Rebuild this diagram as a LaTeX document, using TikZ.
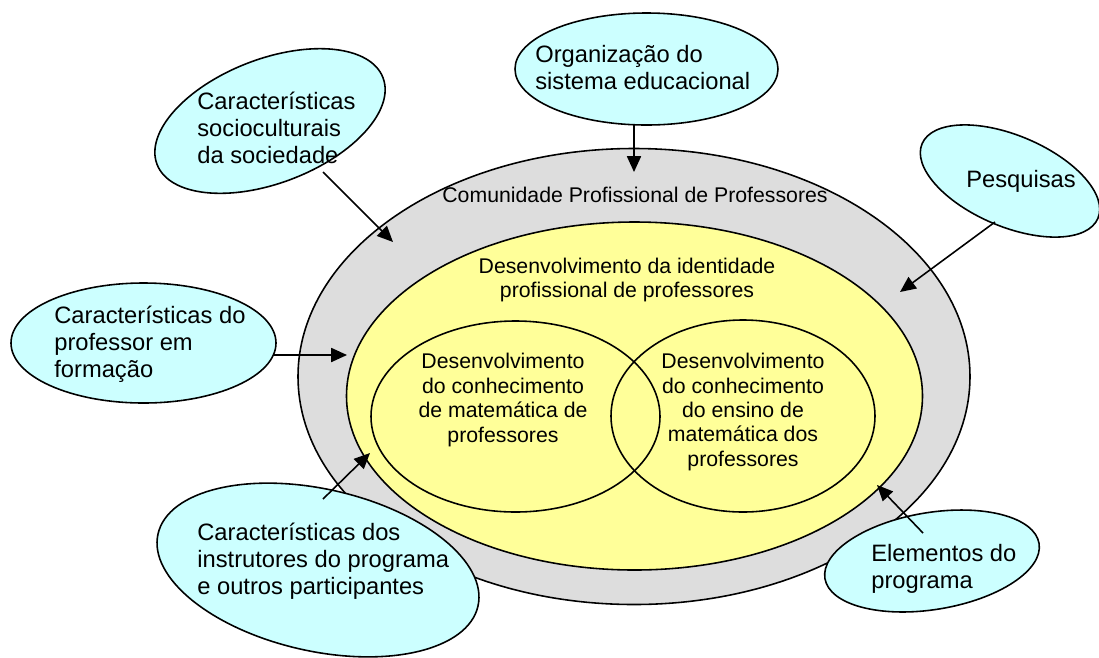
\documentclass[tikz,border=0pt]{standalone}
\usepackage{fontspec}
\setmainfont{Liberation Sans}
\usetikzlibrary{shapes.geometric,arrows.meta}
\definecolor{cyanfill}{HTML}{CCFFFF}
\definecolor{grayfill}{HTML}{DDDDDD}
\definecolor{yellowfill}{HTML}{FFFF99}

\begin{document}
\begin{tikzpicture}[x=0.02cm, y=-0.02cm,
    ell/.style n args={2}{ellipse, draw=black, line width=0.9pt, inner sep=0pt,
        minimum width=#1*0.02cm, minimum height=#2*0.02cm},
    factor/.style={fill=cyanfill},
    bigtxt/.style={font=\fontsize{13.5}{15.4}\selectfont, align=left, anchor=west, inner sep=0pt},
    smalltxt/.style={font=\fontsize{12.1}{13.9}\selectfont, align=center, inner sep=0pt},
    arr/.style={-{Triangle[length=9pt, width=8pt]}, line width=0.9pt}]
        \useasboundingbox (0,0) rectangle (1099,657);
        % centre
        \node[ell={672}{456}, fill=grayfill] (comun_ell) at (634,376.5) {};
        \node[ell={576}{348}, fill=yellowfill] (ident_ell) at (634.5,396) {};
        \node[ell={289}{191}] (mat_ell) at (515.5,416.5) {};
        \node[ell={264}{192}] (ens_ell) at (743,416) {};
        \node[smalltxt] (comun_txt) at (635,195) {Comunidade Profissional de Professores};
        \node[smalltxt] (ident_txt) at (627,280) {Desenvolvimento da identidade\\profissional de professores};
        \node[smalltxt] (mat_txt) at (503,400) {Desenvolvimento\\do conhecimento\\de matemática de\\professores};
        \node[smalltxt] (ens_txt) at (743,412) {Desenvolvimento\\do conhecimento\\do ensino de\\matemática dos\\professores};
        % fatores
        \node[ell={242}{124}, factor, rotate=21] (socio_ell) at (270,121) {};
        \node[ell={263}{112}, factor] (org_ell) at (646.5,69) {};
        \node[ell={191}{91}, factor, rotate=-23] (pes_ell) at (1010,181) {};
        \node[ell={265}{120}, factor] (prof_ell) at (143.5,343) {};
        \node[ell={328}{162}, factor, rotate=-12.7] (inst_ell) at (318,570) {};
        \node[ell={217}{97}, factor, rotate=9.3] (elem_ell) at (932,561) {};
        \node[bigtxt] (socio_txt) at (197,127.5) {Características\\socioculturais\\da sociedade};
        \node[bigtxt] (org_txt) at (535,67.5) {Organização do\\sistema educacional};
        \node[bigtxt, anchor=center] (pes_txt) at (1021,181) {Pesquisas};
        \node[bigtxt] (prof_txt) at (54,344.5) {Características do\\professor em\\formação};
        \node[bigtxt] (inst_txt) at (197,561) {Características dos\\instrutores do programa\\e outros participantes};
        \node[bigtxt] (elem_txt) at (871,569) {Elementos do\\programa};
        % setas
        \coordinate (org_out) at (634,125);
        \coordinate (org_in) at (634,172);
        \coordinate (socio_out) at (323,172);
        \coordinate (socio_in) at (393,242);
        \coordinate (pes_out) at (995,222);
        \coordinate (pes_in) at (900,292);
        \coordinate (prof_out) at (274,355);
        \coordinate (prof_in) at (347,355);
        \coordinate (inst_out) at (323,499);
        \coordinate (inst_in) at (370,453);
        \coordinate (elem_out) at (923,533);
        \coordinate (elem_in) at (877,485);
        \draw[arr] (org_out) -- (org_in);
        \draw[arr] (socio_out) -- (socio_in);
        \draw[arr] (pes_out) -- (pes_in);
        \draw[arr] (prof_out) -- (prof_in);
        \draw[arr] (inst_out) -- (inst_in);
        \draw[arr] (elem_out) -- (elem_in);
\end{tikzpicture}
\end{document}
